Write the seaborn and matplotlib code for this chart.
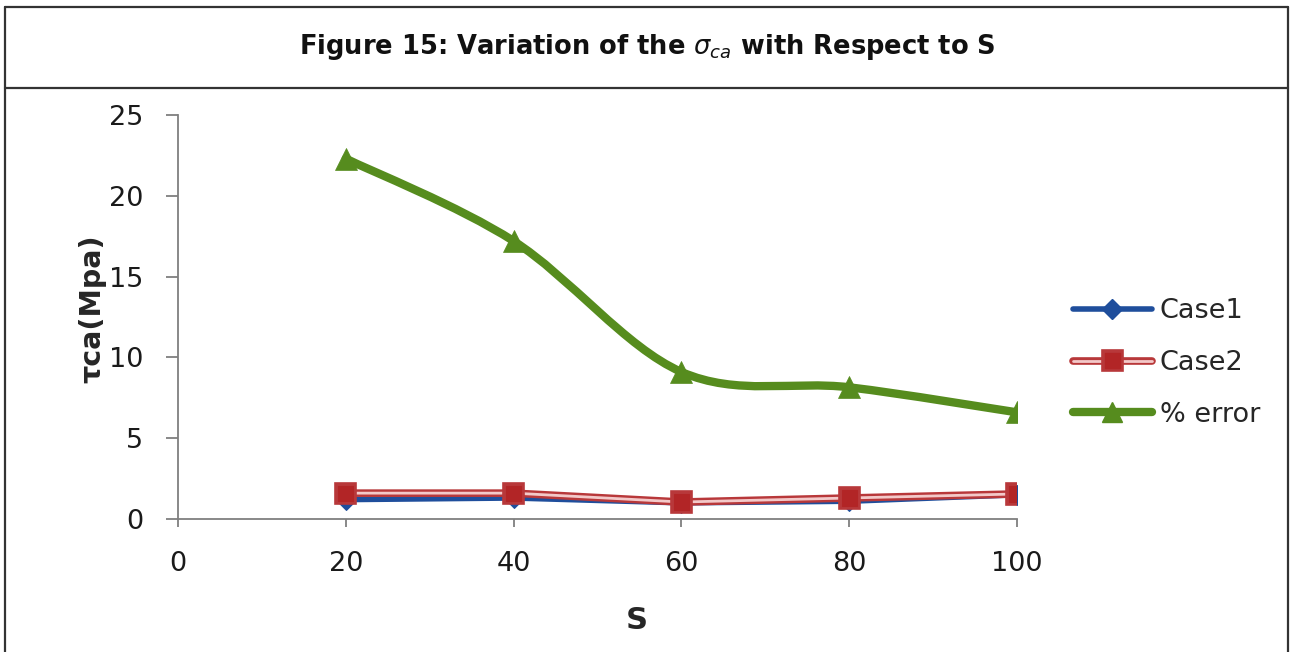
import numpy as np
import matplotlib
matplotlib.use("Agg")
import matplotlib.pyplot as plt
import seaborn as sns
from matplotlib.path import Path
from matplotlib.patches import PathPatch
from matplotlib.lines import Line2D
import matplotlib.patheffects as pe

# ---------------- data ----------------
s_values = [20, 40, 60, 80, 100]
case1 = [1.2, 1.3, 1.0, 1.1, 1.5]
case2 = [1.6, 1.6, 1.05, 1.3, 1.55]
pct_error = [22.3, 17.2, 9.1, 8.15, 6.6]
x_ticks = [0, 20, 40, 60, 80, 100]
y_ticks = [0, 5, 10, 15, 20, 25]
series_labels = ["Case1", "Case2", "% error"]
title_text = r"Figure 15: Variation of the $\sigma_{ca}$ with Respect to S"
x_label = "S"
y_label = "τca(Mpa)"

# ---------------- style ----------------
sns.set_style("ticks")
plt.rcParams["font.family"] = ["DejaVu Sans"]

W, H = 1290, 652
fx = lambda px: px / W
fy = lambda py: 1 - py / H

blue = "#1F4E9C"
red = "#B22526"
red_light = "#F3C9C9"
red_edge = "#B8383A"
green = "#568C1E"
axis_gray = "#7F7F7F"

fig = plt.figure(figsize=(W / 100, H / 100), dpi=100)
ax = fig.add_axes([fx(178), fy(519), (1017 - 178) / W, (519 - 115) / H])

red_pe = [pe.Stroke(linewidth=5.5, foreground=red_edge), pe.Normal()]

sns.lineplot(x=s_values, y=case1, ax=ax, color=blue, lw=4.0, marker="D",
             markersize=10, markeredgecolor=blue, markerfacecolor=blue, zorder=3)
sns.lineplot(x=s_values, y=case2, ax=ax, color=red_light, lw=2.0, marker="s",
             markersize=11, markeredgecolor=red, markerfacecolor=red,
             path_effects=red_pe, zorder=3.5)

# smoothed line (Excel-style Bezier through the data points)
P = np.column_stack([np.asarray(s_values, float), np.asarray(pct_error, float)])
Pext = np.vstack([P[0], P, P[-1]])
verts = [P[0]]
codes = [Path.MOVETO]
for i in range(len(P) - 1):
    p0, p1, p2, p3 = Pext[i], Pext[i + 1], Pext[i + 2], Pext[i + 3]
    c1 = p1 + (p2 - p0) / 6.0
    c2 = p2 - (p3 - p1) / 6.0
    verts += [c1, c2, p2]
    codes += [Path.CURVE4] * 3
ax.add_patch(PathPatch(Path(verts, codes), fill=False, edgecolor=green, lw=6.0,
                       capstyle="round", joinstyle="round", zorder=4))
sns.scatterplot(x=s_values, y=pct_error, ax=ax, marker="^", s=250,
                color=green, edgecolor=green, linewidth=0.5, zorder=5)

ax.set_xlim(0, 100)
ax.set_ylim(0, 25)
ax.set_xticks(x_ticks)
ax.set_yticks(y_ticks)
ax.set_xticklabels([str(v) for v in x_ticks])
ax.set_yticklabels([str(v) for v in y_ticks])
sns.despine(ax=ax)
for sp in ["left", "bottom"]:
    ax.spines[sp].set_color(axis_gray)
    ax.spines[sp].set_linewidth(1.3)
ax.tick_params(axis="x", direction="out", length=6, width=1.3, color=axis_gray,
               pad=17, labelsize=19.5, labelcolor="#1A1A1A")
ax.tick_params(axis="y", direction="out", length=9, width=1.3, color=axis_gray,
               pad=16, labelsize=19.5, labelcolor="#1A1A1A")

ax.set_xlabel(x_label, fontsize=22, fontweight="bold", va="top")
ax.xaxis.set_label_coords((637 - 178) / 839, -0.215)
ax.set_ylabel(y_label, fontsize=20.5, fontweight="bold")
ax.yaxis.set_label_coords(-0.085, 0.52)

# legend
h1 = Line2D([], [], color=blue, lw=4.0, marker="D", markersize=10,
            markeredgecolor=blue, markerfacecolor=blue)
h2 = Line2D([], [], color=red_light, lw=2.0, marker="s", markersize=11,
            markeredgecolor=red, markerfacecolor=red, path_effects=red_pe)
h3 = Line2D([], [], color=green, lw=6.0, marker="^", markersize=15,
            markeredgecolor=green, markerfacecolor=green)
fig.legend([h1, h2, h3], series_labels, loc="center left",
           bbox_to_anchor=(fx(1073), fy(363)), frameon=False, fontsize=19.5,
           handlelength=2.9, handletextpad=0.3, labelspacing=0.95,
           borderpad=0, borderaxespad=0)

# title and frame
fig.text(fx(647), fy(47), title_text, ha="center", va="center",
         fontsize=18.5, fontweight="bold", color="#111111")
frame_kw = dict(transform=fig.transFigure, color="#333333", lw=1.6)
fig.add_artist(Line2D([fx(5), fx(1288)], [fy(7), fy(7)], **frame_kw))
fig.add_artist(Line2D([fx(5), fx(1288)], [fy(88), fy(88)], **frame_kw))
fig.add_artist(Line2D([fx(5), fx(5)], [fy(7), fy(660)], **frame_kw))
fig.add_artist(Line2D([fx(1288), fx(1288)], [fy(7), fy(660)], **frame_kw))

fig.savefig("out.png", dpi=100)
